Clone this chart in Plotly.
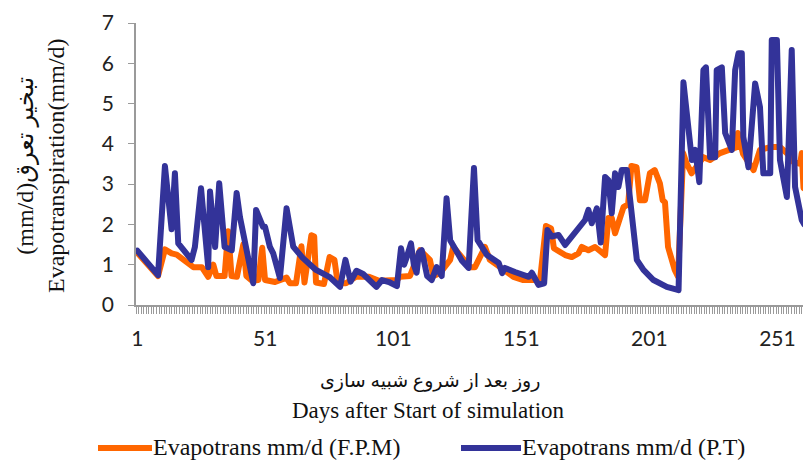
import plotly.graph_objects as go

# ---- data ----
days_fpm = [1, 9.1, 11.8, 14.4, 16.4, 20.3, 22.9, 26.2, 28.7, 30.7,
            31.9, 35.1, 36.5, 37.8, 39.9, 42.4, 43.6, 45.8, 48.3, 49.8,
            50.9, 54.8, 59.3, 60.6, 63.0, 65.1, 66.3, 69.0, 70.1, 70.8,
            73.9, 76.1, 78.0, 79.3, 82.5, 86.4, 91.5, 95.4, 102.3, 103.6,
            107.5, 111.4, 115.3, 116.6, 119.2, 123.2, 124.4, 131.0, 132.9, 136.8,
            138.7, 142.7, 147.9, 151.8, 158.3, 160.6, 162.6, 163.7, 168.1, 170.7,
            173.3, 174.6, 177.2, 179.8, 182.4, 183.7, 185.0, 186.3, 187.6, 188.9,
            190.9, 192.7, 194.0, 196.0, 197.3, 199.3, 201.2, 203.1, 205.1, 206.2,
            207.1, 208.3, 209.6, 210.9, 212.2, 214.2, 215.5, 217.5, 222.1, 224.7,
            228.6, 232.5, 235.1, 235.6, 237.6, 239.1, 241.7, 244.2, 248.2, 252.0,
            254.7, 257.3, 259.9, 260.5, 261.2]
et_fpm = [1.3, 0.72, 1.38, 1.28, 1.25, 1.04, 0.94, 0.94, 0.7, 1.0,
          0.72, 0.72, 1.83, 0.72, 0.7, 1.5, 0.72, 0.6, 0.62, 1.42,
          0.62, 0.57, 0.68, 0.54, 0.54, 1.46, 0.56, 1.73, 1.7, 0.56,
          0.52, 1.19, 1.12, 0.54, 0.54, 0.7, 0.7, 0.6, 0.62, 0.7,
          0.72, 1.36, 1.12, 0.72, 0.79, 1.12, 1.44, 0.94, 0.94, 1.44,
          1.12, 0.94, 0.7, 0.62, 0.62, 1.96, 1.9, 1.41, 1.24, 1.19,
          1.28, 1.44, 1.36, 1.44, 1.28, 1.24, 2.16, 2.16, 1.78, 2.06,
          2.43, 2.5, 3.45, 3.42, 2.6, 2.6, 3.27, 3.35, 3.02, 2.6,
          2.55, 1.44, 1.12, 0.87, 0.7, 3.77, 3.52, 3.27, 3.67, 3.6,
          3.77, 3.85, 3.92, 4.27, 3.75, 3.6, 3.35, 3.85, 3.92, 3.92,
          3.77, 3.55, 3.5, 3.77, 2.9]

days_pt = [1, 9.1, 11.8, 14.4, 15.7, 17.0, 22.2, 23.5, 25.9, 28.7,
           29.4, 31.4, 33.0, 35.1, 37.9, 39.8, 41.1, 42.4, 46.3, 47.4,
           50.1, 50.9, 52.8, 54.1, 56.7, 59.3, 61.9, 65.6, 70.8, 76.0,
           80.2, 82.3, 84.3, 86.6, 89.2, 94.4, 96.6, 99.3, 102.4, 104.0,
           105.2, 106.3, 107.9, 109.0, 110.1, 111.0, 112.1, 114.2, 116.0, 117.9,
           119.9, 121.8, 123.2, 127.8, 130.4, 132.5, 133.9, 137.6, 142.2, 143.5,
           144.6, 148.5, 153.9, 155.1, 157.7, 159.9, 161.2, 162.9, 165.5, 168.1,
           170.7, 173.3, 175.9, 177.2, 178.5, 180.5, 182.0, 183.7, 185.0, 186.3,
           187.6, 188.9, 190.2, 192.2, 196.1, 198.7, 202.6, 207.8, 212.4, 214.3,
           216.3, 217.6, 218.9, 220.5, 222.1, 223.1, 224.7, 226.7, 227.3, 229.3,
           230.6, 233.2, 234.5, 235.8, 237.1, 237.7, 239.7, 242.3, 244.2, 245.5,
           248.2, 248.8, 250.8, 252.0, 254.7, 256.6, 257.9, 260.5, 261.5]
et_pt = [1.35, 0.74, 3.45, 1.88, 3.27, 1.53, 1.12, 1.44, 2.9, 0.94,
         2.82, 1.44, 3.02, 1.44, 1.36, 2.78, 2.18, 1.78, 0.54, 2.36,
         1.94, 1.94, 1.44, 1.28, 0.67, 2.4, 1.45, 1.17, 0.87, 0.7,
         0.45, 1.12, 0.58, 0.85, 0.77, 0.45, 0.62, 0.57, 0.47, 1.41,
         1.0, 1.2, 1.53, 1.0, 0.8, 1.3, 1.36, 0.72, 0.62, 0.94,
         0.72, 2.65, 1.61, 1.1, 0.92, 3.4, 1.61, 1.24, 1.04, 0.79,
         0.92, 0.82, 0.7, 0.8, 0.5, 0.54, 1.86, 1.7, 1.74, 1.49,
         1.7, 1.86, 2.11, 2.36, 2.03, 2.4, 1.55, 3.18, 3.1, 2.28,
         3.27, 2.93, 3.35, 3.35, 1.12, 0.87, 0.62, 0.45, 0.37, 5.53,
         4.27, 3.6, 3.85, 3.05, 5.83, 5.9, 3.67, 3.67, 5.83, 5.9,
         4.27, 3.85, 5.83, 6.25, 6.25, 4.17, 3.42, 5.5, 4.91, 3.27,
         3.27, 6.58, 6.58, 3.6, 2.68, 6.33, 2.93, 2.11, 2.0]

x_tick_vals = [1, 51, 101, 151, 201, 251]
x_tick_text = ["1", "51", "101", "151", "201", "251"]
y_tick_vals = [0, 1, 2, 3, 4, 5, 6, 7]

name_fpm = "Evapotrans mm/d (F.P.M)"
name_pt = "Evapotrans mm/d (P.T)"
y_title_fa = "(mm/d)تبخیر تعرق"
y_title_en = "Evapotranspiration(mm/d)"
x_title_fa = "روز بعد از شروع شبیه سازی"
x_title_en = "Days after Start of simulation"

assert len(days_fpm) == len(et_fpm)
assert len(days_pt) == len(et_pt)

ORANGE = "#FF6600"
BLUE = "#333399"
AXIS_GRAY = "#9a9a9a"
LW = 6
W, H = 803, 463
L, R, T, B = 136, 0, 23, 158
PW, PH = W - L - R, H - T - B


def px(xp):
    return (xp - L) / PW


def py(yp):
    return (H - B - yp) / PH


fig = go.Figure()
fig.add_trace(go.Scatter(x=days_fpm, y=et_fpm, mode="lines", name=name_fpm,
                         line=dict(color=ORANGE, width=LW), showlegend=False))
fig.add_trace(go.Scatter(x=days_pt, y=et_pt, mode="lines", name=name_pt,
                         line=dict(color=BLUE, width=LW), showlegend=False))

serif = "Liberation Serif, Times New Roman, DejaVu Serif, DejaVu Sans"
sans = "Lato, Open Sans, sans-serif"

fig.update_layout(
    width=W, height=H,
    margin=dict(l=L, r=R, t=T, b=B),
    paper_bgcolor="white", plot_bgcolor="white",
    xaxis=dict(
        range=[0.5, 261.0], tickmode="array", tickvals=x_tick_vals, ticktext=x_tick_text,
        ticks="", showgrid=False, zeroline=False, showline=True,
        linecolor=AXIS_GRAY, linewidth=1.5,
        tickfont=dict(family=sans, size=21, color="#222222"),
        ticklabelstandoff=14,
        minor=dict(ticks="outside", ticklen=7, tickcolor=AXIS_GRAY, tickwidth=1,
                   tick0=0.5, dtick=1, showgrid=False),
    ),
    yaxis=dict(
        range=[0, 7], tickmode="array", tickvals=y_tick_vals,
        ticks="outside", ticklen=6, tickcolor=AXIS_GRAY, tickwidth=1,
        showgrid=False, zeroline=False, showline=True,
        linecolor=AXIS_GRAY, linewidth=1.5,
        tickfont=dict(family=sans, size=21, color="#222222"),
        ticklabelstandoff=10,
    ),
)

ann = []
# y-axis title (two lines)
ann.append(dict(x=px(40), y=py(166), xref="paper", yref="paper",
                text=y_title_fa + "<br>" + y_title_en, textangle=-90,
                showarrow=False, xanchor="center", yanchor="middle",
                font=dict(family=serif, size=24, color="#111111")))
# x-axis titles
ann.append(dict(x=px(430), y=py(381), xref="paper", yref="paper",
                text=x_title_fa, showarrow=False, xanchor="center", yanchor="middle",
                font=dict(family=serif, size=19, color="#111111")))
ann.append(dict(x=px(428), y=py(410), xref="paper", yref="paper",
                text=x_title_en, showarrow=False, xanchor="center", yanchor="middle",
                font=dict(family=serif, size=23, color="#111111")))
# legend
ann.append(dict(x=px(151), y=py(447), xref="paper", yref="paper",
                text=name_fpm, showarrow=False, xanchor="left", yanchor="middle",
                font=dict(family=serif, size=24, color="#111111")))
ann.append(dict(x=px(520), y=py(447), xref="paper", yref="paper",
                text=name_pt, showarrow=False, xanchor="left", yanchor="middle",
                font=dict(family=serif, size=24, color="#111111")))
fig.update_layout(annotations=ann)

fig.add_shape(type="line", xref="paper", yref="paper",
              x0=px(98), x1=px(152), y0=py(448), y1=py(448),
              line=dict(color=ORANGE, width=LW))
fig.add_shape(type="line", xref="paper", yref="paper",
              x0=px(461), x1=px(521), y0=py(448), y1=py(448),
              line=dict(color=BLUE, width=LW))

post = (
    "document.body.style.margin='0';"
    "document.body.style.overflow='hidden';"
    "document.querySelectorAll('.scatterlayer path.js-line').forEach(function(p){"
    "p.style.strokeLinejoin='round';p.style.strokeLinecap='round';});"
)
fig.write_html("out.html", config={"displayModeBar": False}, post_script=post)
